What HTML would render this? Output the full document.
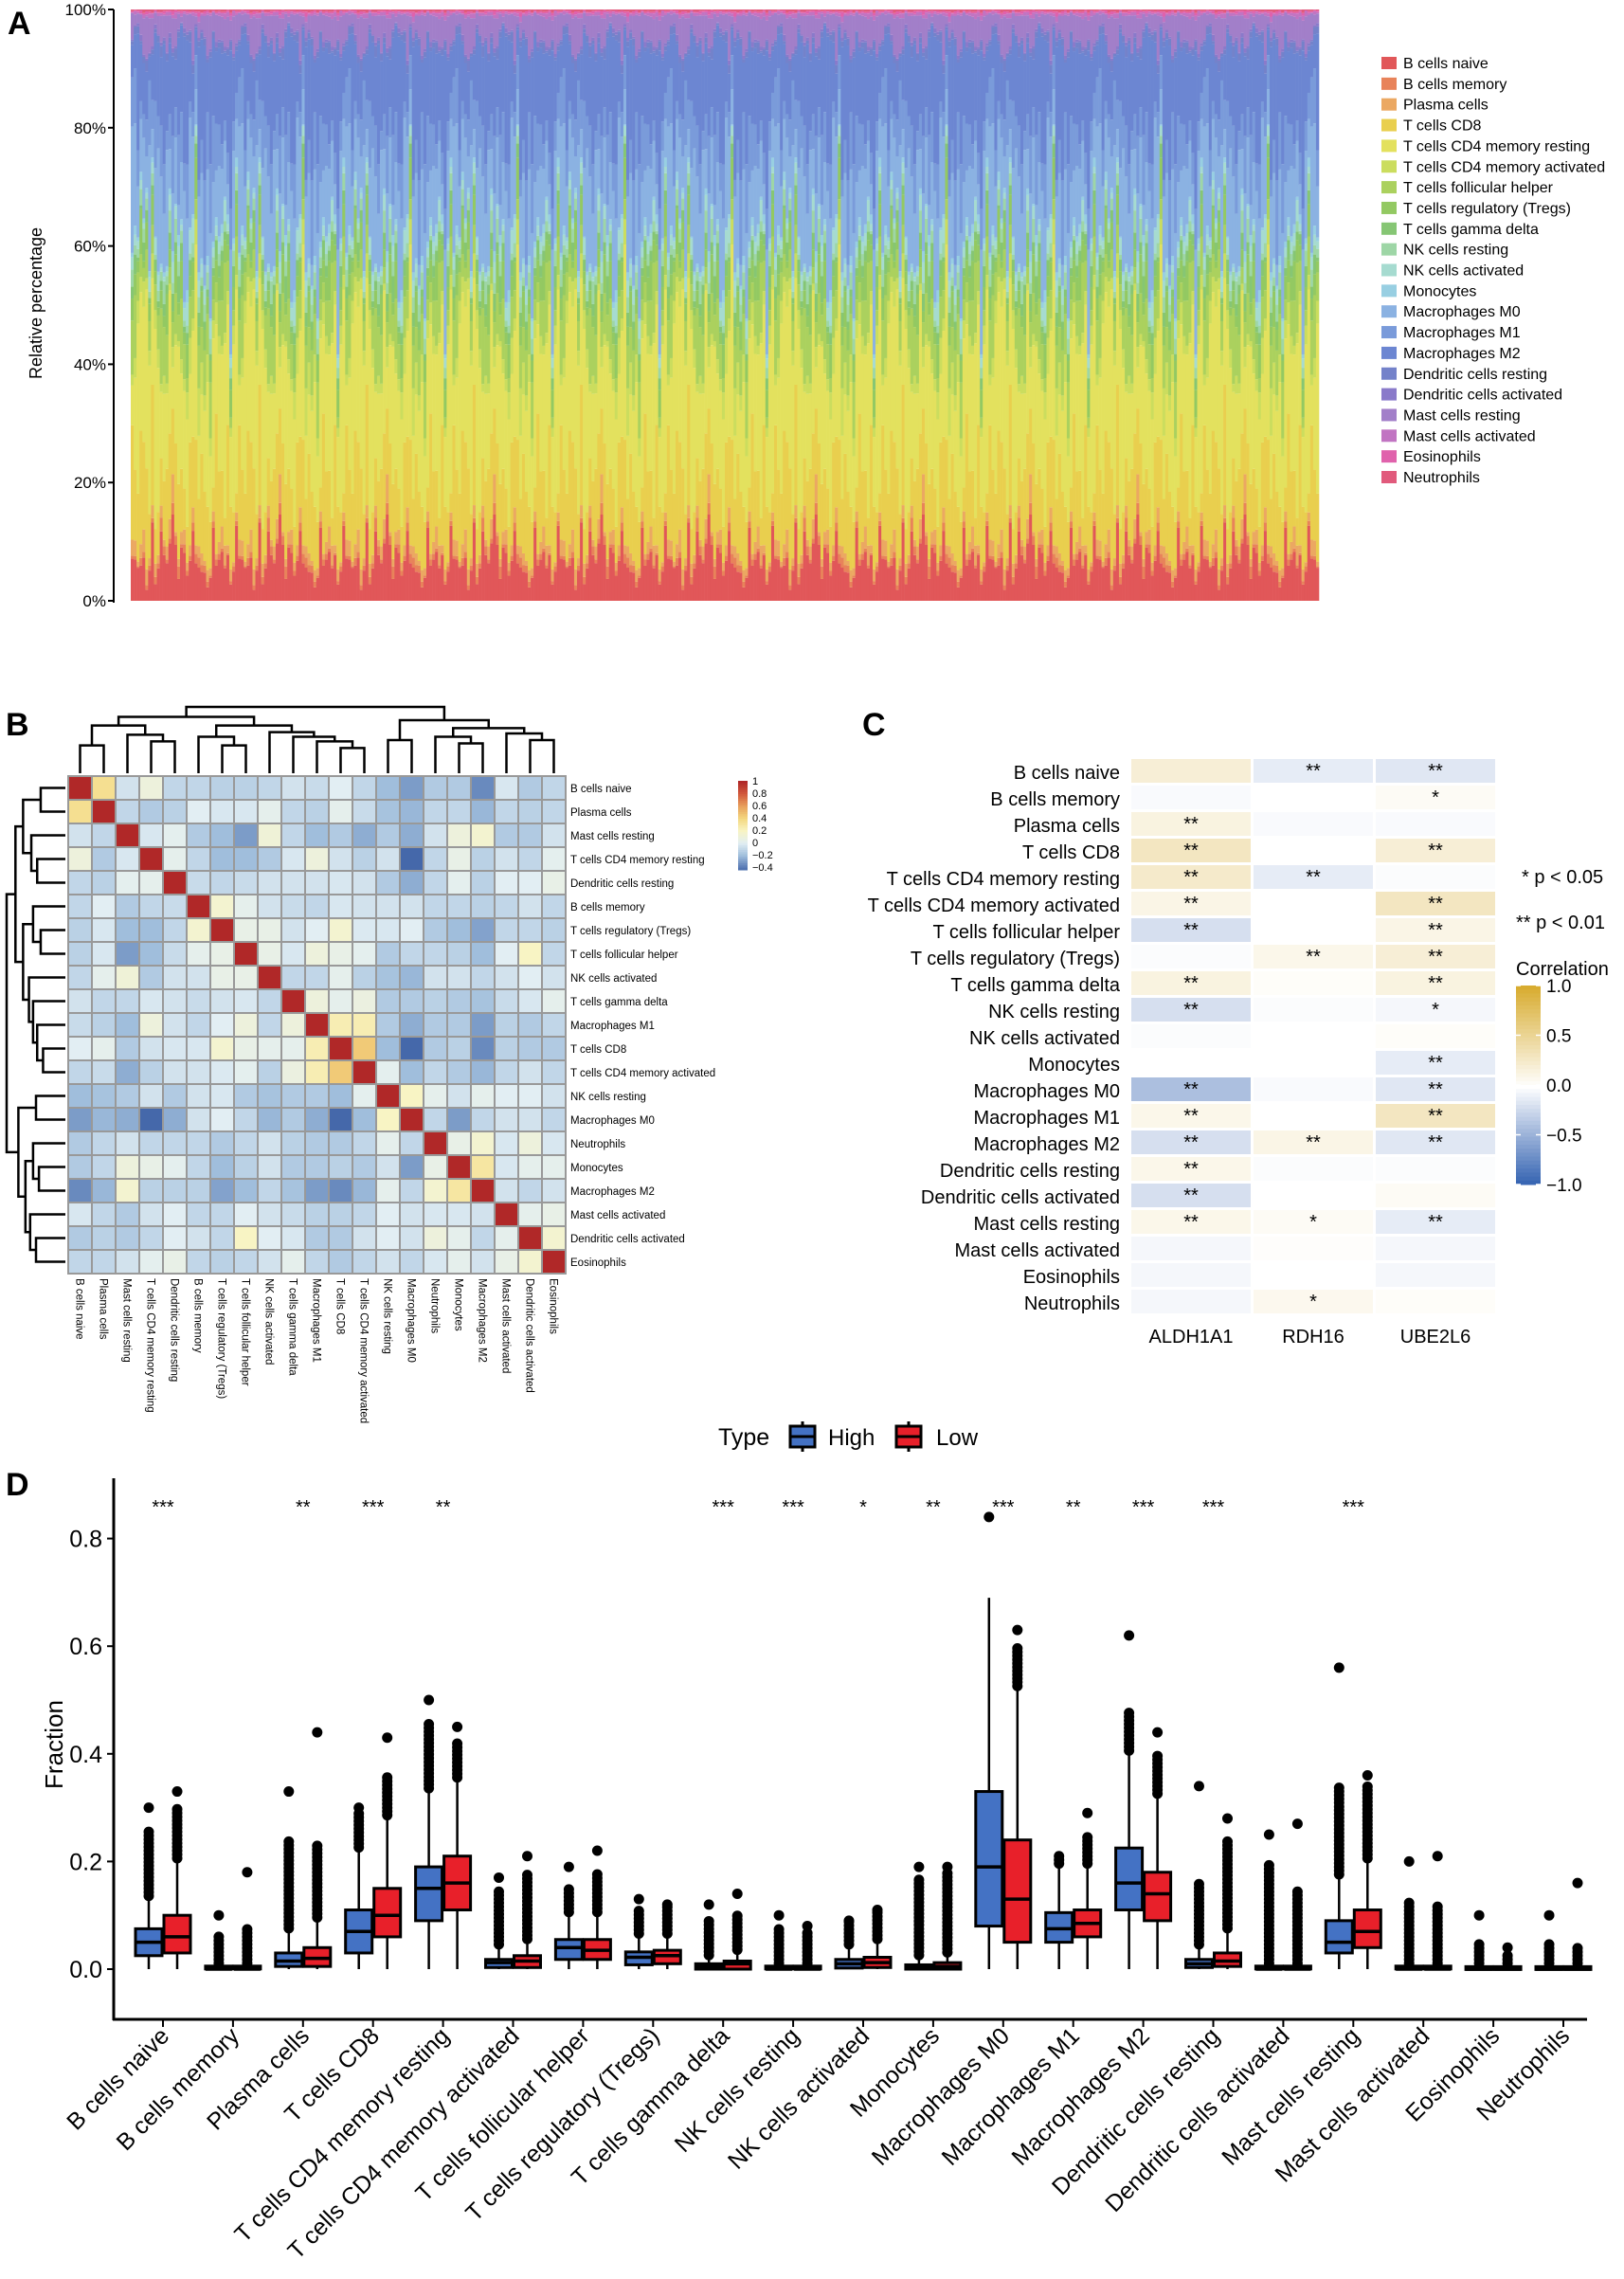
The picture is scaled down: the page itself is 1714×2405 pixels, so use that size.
<!DOCTYPE html>
<html><head><meta charset="utf-8"><style>
body{margin:0;background:#fff}
svg{display:block;font-family:"Liberation Sans",Arial,sans-serif}
</style></head><body>
<svg id="fig" width="1714" height="2405" viewBox="0 0 1714 2405" xmlns="http://www.w3.org/2000/svg">
<rect width="1714" height="2405" fill="#fff"/>
<text x="8" y="36" font-size="34" font-weight="bold">A</text>
<text x="6" y="776" font-size="34" font-weight="bold">B</text>
<text x="910" y="776" font-size="34" font-weight="bold">C</text>
<text x="6" y="1578" font-size="34" font-weight="bold">D</text>
<g id="pa"></g>
<g id="pb"></g>
<g id="pc"></g>
<g id="pd"></g>
</svg>
<script>
const NS="http://www.w3.org/2000/svg";
function mk(p,t,a,txt){const e=document.createElementNS(NS,t);for(const k in a)e.setAttribute(k,a[k]);if(txt!==undefined)e.textContent=txt;p.appendChild(e);return e;}

// ---------- Panel A data ----------
const cellTypes=["B cells naive","B cells memory","Plasma cells","T cells CD8","T cells CD4 memory resting","T cells CD4 memory activated","T cells follicular helper","T cells regulatory (Tregs)","T cells gamma delta","NK cells resting","NK cells activated","Monocytes","Macrophages M0","Macrophages M1","Macrophages M2","Dendritic cells resting","Dendritic cells activated","Mast cells resting","Mast cells activated","Eosinophils","Neutrophils"];
const cellColors=["#E15759","#E8835A","#EBA862","#E9CF4E","#E3E15E","#CBDD5E","#ABD15E","#93C962","#86C674","#9ED6A6","#A6DBD0","#98CFE2","#8BB2E2","#7A9BDA","#6C86D2","#7482CA","#8A7ACA","#A27FC9","#C174C2","#E062AC","#E15A7C"];
const cellMeans=[0.07,0.01,0.02,0.12,0.2,0.03,0.06,0.04,0.02,0.02,0.02,0.01,0.12,0.07,0.13,0.01,0.005,0.04,0.005,0.003,0.003];
const sampleWiggle=[1.2,0.7,1.5,0.9,0.4,1.8,1.0,0.6,1.3,0.8,2.1,0.5,1.1,0.9,1.6,0.3,1.0,1.4,0.7,1.2,0.6,1.9,0.8,1.0,0.5,1.3,1.7,0.9,0.4,1.1,1.5,0.8,0.6,1.2,2.0,0.7,1.0];
const pctTicks=["0%","20%","40%","60%","80%","100%"];
(function(){
const g=document.getElementById("pa");
const x0=138,x1=1392,yB=634,yT=10,N=410;
const bw=(x1-x0)/N;
for(let s=0;s<N;s++){
  const vals=cellMeans.map((m,k)=>m*sampleWiggle[(s*(k+3)+k*7)%sampleWiggle.length]);
  const tot=vals.reduce((a,b)=>a+b,0);
  let acc=0;
  vals.forEach((v,k)=>{
    const f=v/tot;
    const ya=yB-(acc+f)*(yB-yT), yb=yB-acc*(yB-yT);
    const r=mk(g,"rect",{x:(x0+s*bw).toFixed(2),y:ya.toFixed(2),width:(bw+0.3).toFixed(2),height:(yb-ya).toFixed(2),fill:cellColors[k]});
    
    
    acc+=f;
  });
}
const ax=mk(g,"line",{x1:120,y1:yT,x2:120,y2:yB+2,stroke:"#000","stroke-width":2});

pctTicks.forEach((t,i)=>{
  const y=yB-i*(yB-yT)/5;
  mk(g,"line",{x1:114,y1:y,x2:120,y2:y,stroke:"#000","stroke-width":2});
  const tx=mk(g,"text",{x:112,y:y+6,"font-size":17,"text-anchor":"end"},t);
  
});
const yt=mk(g,"text",{x:44,y:320,"font-size":18,"text-anchor":"middle",transform:"rotate(-90 44 320)"},"Relative percentage");

cellTypes.forEach((c,k)=>{
  const y=60+k*21.85;
  const r=mk(g,"rect",{x:1458,y:y,width:16,height:13,fill:cellColors[k]});
  
  const t=mk(g,"text",{x:1481,y:y+12,"font-size":16},c);
  
});
})();

// ---------- Panel B data ----------
const hmLabels=["B cells naive","Plasma cells","Mast cells resting","T cells CD4 memory resting","Dendritic cells resting","B cells memory","T cells regulatory (Tregs)","T cells follicular helper","NK cells activated","T cells gamma delta","Macrophages M1","T cells CD8","T cells CD4 memory activated","NK cells resting","Macrophages M0","Neutrophils","Monocytes","Macrophages M2","Mast cells activated","Dendritic cells activated","Eosinophils"];
const corrMatrix=[
[1,.35,-.05,.1,-.1,-.1,-.12,-.12,-.1,-.05,-.08,0,-.1,-.2,-.3,-.15,-.15,-.35,-.03,-.15,-.1],
[.35,1,-.1,-.15,-.12,0,-.03,-.03,.03,-.1,-.12,.03,-.08,-.18,-.22,-.1,-.1,-.22,-.1,-.12,-.1],
[-.05,-.1,1,-.03,.02,-.15,-.2,-.3,.12,-.1,-.2,-.15,-.25,-.15,-.25,-.05,.1,.15,-.15,-.15,-.05],
[.1,-.15,-.03,1,.03,-.1,-.2,-.2,-.15,-.03,.1,-.05,-.12,-.05,-.45,-.1,.05,-.12,-.05,-.1,.02],
[-.1,-.12,.02,.03,1,-.08,-.1,-.08,-.05,-.05,-.05,-.03,-.05,-.15,-.25,-.1,.02,-.12,0,0,.05],
[-.1,0,-.15,-.1,-.08,1,.15,.03,-.05,-.08,-.1,-.03,-.05,-.05,-.05,-.1,-.1,-.12,-.1,-.05,-.1],
[-.12,-.03,-.2,-.2,-.1,.15,1,.05,.05,-.05,0,.15,-.02,-.03,0,-.15,-.2,-.28,-.1,-.1,-.12],
[-.12,-.03,-.3,-.2,-.08,.03,.05,1,.05,-.03,.1,.05,.02,-.15,-.1,-.1,-.12,-.2,0,.2,-.1],
[-.1,.03,.12,-.15,-.05,-.05,.05,.05,1,-.1,-.1,.03,-.12,-.18,-.22,-.05,-.05,-.1,-.05,0,-.05],
[-.05,-.1,-.1,-.03,-.05,-.08,-.05,-.03,-.1,1,.1,.03,.08,-.15,-.15,-.12,-.15,-.18,-.08,-.03,.03],
[-.08,-.12,-.2,.1,-.05,-.1,0,.1,-.1,.1,1,.25,.25,-.15,-.25,-.15,-.15,-.3,-.12,-.15,-.1],
[0,.03,-.15,-.05,-.03,-.03,.15,.05,.03,.03,.25,1,.45,-.2,-.45,-.15,-.12,-.35,-.12,-.15,-.15],
[-.1,-.08,-.25,-.12,-.05,-.05,-.02,.02,-.12,.08,.25,.45,1,.02,-.2,-.1,-.15,-.22,-.1,-.05,-.1],
[-.2,-.18,-.15,-.05,-.15,-.05,-.03,-.15,-.18,-.15,-.15,-.2,.02,1,.2,.03,-.05,.03,0,0,-.05],
[-.3,-.22,-.25,-.45,-.25,-.05,0,-.1,-.22,-.15,-.25,-.45,-.2,.2,1,-.1,-.3,-.1,-.05,-.05,-.1],
[-.15,-.1,-.05,-.1,-.1,-.1,-.15,-.1,-.05,-.12,-.15,-.15,-.1,.03,-.1,1,.05,.15,-.03,.1,-.03],
[-.15,-.1,.1,.05,.02,-.1,-.2,-.12,-.05,-.15,-.15,-.12,-.15,-.05,-.3,.05,1,.3,-.03,.03,.03],
[-.35,-.22,.15,-.12,-.12,-.12,-.28,-.2,-.1,-.18,-.3,-.35,-.22,.03,-.1,.15,.3,1,-.05,-.1,-.05],
[-.03,-.1,-.15,-.05,0,-.1,-.1,0,-.05,-.08,-.12,-.12,-.1,0,-.05,-.03,-.03,-.05,1,.03,.05],
[-.15,-.12,-.15,-.1,0,-.05,-.1,.2,0,-.03,-.15,-.15,-.05,0,-.05,.1,.03,-.1,.03,1,.15],
[-.1,-.1,-.05,.02,.05,-.1,-.12,-.1,-.05,.03,-.1,-.15,-.1,-.05,-.1,-.03,.03,-.05,.05,.15,1]];
const dendroMerges=[[0,1,.42],[3,4,.48],[2,22,.58],[21,23,.72],[6,7,.42],[5,25,.55],[11,12,.38],[10,27,.48],[9,28,.55],[8,29,.62],[26,30,.72],[24,31,.85],[13,14,.5],[16,17,.45],[15,34,.55],[19,20,.5],[18,36,.6],[35,37,.68],[33,38,.8],[32,39,1]];
const cbTicks=[1,0.8,0.6,0.4,0.2,0,-0.2,-0.4];
function rdylbu(v){
  const st=[[-0.45,[69,104,170]],[-0.2,[160,190,220]],[0,[226,238,243]],[0.2,[248,244,196]],[0.4,[244,216,128]],[0.6,[232,160,92]],[0.8,[210,90,60]],[1,[176,40,40]]];
  for(let i=0;i<st.length-1;i++){if(v<=st[i+1][0]){const t=Math.max(0,(v-st[i][0])/(st[i+1][0]-st[i][0]));const c=st[i][1].map((a,j)=>Math.round(a+(st[i+1][1][j]-a)*t));return `rgb(${c})`;}}
  return "rgb(176,40,40)";
}
(function(){
const g=document.getElementById("pb");
const hx=72,hy=819,cs=25,n=hmLabels.length;
for(let i=0;i<n;i++)for(let j=0;j<n;j++){
  const r=mk(g,"rect",{x:hx+j*cs,y:hy+i*cs,width:cs,height:cs,fill:rdylbu(corrMatrix[i][j]),stroke:"#999","stroke-width":2});
  
}
hmLabels.forEach((l,i)=>{
  const t=mk(g,"text",{x:hx+n*cs+5,y:hy+i*cs+17,"font-size":11.5},l);
  
  const cx=hx+i*cs+cs/2-4;const yy=hy+n*cs+5;
  const c=mk(g,"text",{x:cx,y:yy,"font-size":11.5,transform:`rotate(90 ${cx} ${yy})`},l);
  
});
const pos={},ht={};
for(let i=0;i<n;i++){pos[i]=i*cs+cs/2;ht[i]=0;}
dendroMerges.forEach((m,k)=>{const id=n+k;pos[id]=(pos[m[0]]+pos[m[1]])/2;ht[id]=m[2];});
const topH=70,leftW=62;
dendroMerges.forEach((m,k)=>{
  const [a,b,h]=m;
  const ya=hy-3-ht[a]*topH,yb=hy-3-ht[b]*topH,yh=hy-3-h*topH;
  const p=mk(g,"path",{d:`M${hx+pos[a]} ${ya}V${yh}H${hx+pos[b]}V${yb}`,fill:"none",stroke:"#000","stroke-width":2.5});
  
  const xa=hx-3-ht[a]*leftW,xb=hx-3-ht[b]*leftW,xh=hx-3-h*leftW;
  const q=mk(g,"path",{d:`M${xa} ${hy+pos[a]}H${xh}V${hy+pos[b]}H${xb}`,fill:"none",stroke:"#000","stroke-width":2.5});
  
});
const cy0=824,cy1=918;
for(let k=0;k<40;k++){const v=1-k*1.45/40;mk(g,"rect",{x:779,y:cy0+k*(cy1-cy0)/40,width:10,height:(cy1-cy0)/40+0.5,fill:rdylbu(v)});}
cbTicks.forEach(v=>{const y=cy0+(1-v)/1.45*(cy1-cy0);
  const t=mk(g,"text",{x:794,y:y+4,"font-size":11},v===0?"0":(v<0?"\u2212"+Math.abs(v):String(v)));
  });
})();

// ---------- Panel C data ----------
const geneNames=["ALDH1A1","RDH16","UBE2L6"];
const corrALDH1A1=[.2,-.03,.15,.3,.25,.12,-.2,-.02,.15,-.2,-.02,0,-.4,.1,-.2,.1,-.2,.1,-.05,-.05,-.05];
const corrRDH16=[-.12,0,-.03,0,-.12,0,0,.1,.03,-.02,0,0,-.03,0,.12,-.02,0,.05,.02,0,.08];
const corrUBE2L6=[-.15,.05,-.03,.2,-.02,.3,.12,.2,.15,-.05,.03,-.12,-.15,.3,-.15,-.02,.05,-.12,-.05,-.05,.03];
const starsALDH1A1=["","","**","**","**","**","**","","**","**","","","**","**","**","**","**","**","","",""];
const starsRDH16=["**","","","","**","","","**","","","","","","","**","","","*","","","*"];
const starsUBE2L6=["**","*","","**","","**","**","**","**","*","","**","**","**","**","","","**","","",""];
const cTicks=[1.0,0.5,0.0,-0.5,-1.0];
function goldBlue(v){
  const w=[255,255,255],p=[216,172,48],n=[48,96,176];
  const t=Math.min(1,Math.abs(v)),c=v>=0?p:n;
  return `rgb(${w.map((a,j)=>Math.round(a+(c[j]-a)*t))})`;
}
(function(){
const g=document.getElementById("pc");
const x0=1194,cw=126,gap=3,y0=801,rh=28;
const vals=[corrALDH1A1,corrRDH16,corrUBE2L6],stars=[starsALDH1A1,starsRDH16,starsUBE2L6];
cellTypes.forEach((c,i)=>{
  const t=mk(g,"text",{x:1182,y:y0+i*rh+21,"font-size":20,"text-anchor":"end"},c);
  
  vals.forEach((arr,j)=>{
    const r=mk(g,"rect",{x:x0+j*(cw+gap),y:y0+i*rh,width:cw,height:rh-3,fill:goldBlue(arr[i])});
    
    if(stars[j][i]){const s=mk(g,"text",{x:x0+j*(cw+gap)+cw/2,y:y0+i*rh+19,"font-size":20,"text-anchor":"middle"},stars[j][i]);
      }
  });
});
geneNames.forEach((gn,j)=>{const t=mk(g,"text",{x:x0+j*(cw+gap)+cw/2,y:1417,"font-size":20,"text-anchor":"middle"},gn);
  });
const l1=mk(g,"text",{x:1606,y:932,"font-size":20},"* p < 0.05");
const l2=mk(g,"text",{x:1600,y:980,"font-size":20},"** p < 0.01");
const l3=mk(g,"text",{x:1600,y:1029,"font-size":20},"Correlation");
const cy0=1040,cy1=1250;
for(let k=0;k<50;k++){const v=1-k*2/50;mk(g,"rect",{x:1600,y:cy0+k*(cy1-cy0)/50,width:26,height:(cy1-cy0)/50+0.5,fill:goldBlue(v)});}
cTicks.forEach(v=>{const y=cy0+(1-v)/2*(cy1-cy0);
  mk(g,"line",{x1:1600,y1:y,x2:1605,y2:y,stroke:"#fff","stroke-width":1.5});
  mk(g,"line",{x1:1621,y1:y,x2:1626,y2:y,stroke:"#fff","stroke-width":1.5});
  const t=mk(g,"text",{x:1632,y:y+7,"font-size":19},(v<0?"\u2212":"")+Math.abs(v).toFixed(1));
  });
})();

// ---------- Panel D data ----------
// each entry: [q1, median, q3, whiskerLow, whiskerHigh, denseOutlierTop, outlierMax]
const highStats=[[.025,.05,.075,0,.13,.26,.30],[0,0,.003,0,.005,.06,.10],[.005,.015,.03,0,.07,.24,.33],[.03,.07,.11,0,.22,.29,.30],[.09,.15,.19,0,.33,.46,.50],[.003,.012,.018,0,.04,.15,.17],[.018,.04,.055,0,.1,.15,.19],[.008,.022,.032,0,.06,.11,.13],[0,.005,.01,0,.02,.09,.12],[0,0,.003,0,.005,.08,.10],[.002,.01,.018,0,.04,.09,.09],[0,.003,.008,0,.02,.17,.19],[.08,.19,.33,0,.69,.69,.84],[.05,.075,.105,0,.19,.21,.21],[.11,.16,.225,0,.4,.48,.62],[.003,.01,.018,0,.04,.16,.34],[0,0,.003,0,.005,.2,.25],[.03,.05,.09,0,.17,.34,.56],[0,0,.003,0,.005,.13,.20],[0,0,.002,0,.005,.05,.10],[0,0,.002,0,.005,.05,.10]];
const lowStats=[[.03,.06,.1,0,.2,.3,.33],[0,0,.003,0,.005,.08,.18],[.005,.02,.04,0,.09,.23,.44],[.06,.1,.15,0,.28,.36,.43],[.11,.16,.21,0,.35,.42,.45],[.003,.015,.025,0,.05,.18,.21],[.018,.035,.055,0,.1,.18,.22],[.01,.025,.035,0,.06,.12,.12],[0,.01,.015,0,.03,.1,.14],[0,0,.003,0,.005,.07,.08],[.003,.012,.022,0,.05,.11,.11],[0,.005,.012,0,.025,.18,.19],[.05,.13,.24,0,.52,.6,.63],[.06,.085,.11,0,.19,.25,.29],[.09,.14,.18,0,.32,.4,.44],[.005,.015,.03,0,.07,.24,.28],[0,0,.003,0,.005,.15,.27],[.04,.07,.11,0,.2,.34,.36],[0,0,.003,0,.005,.12,.21],[0,0,.002,0,.005,.03,.04],[0,0,.002,0,.005,.04,.16]];
const sigStars=["***","","**","***","**","","","","***","***","*","**","***","**","***","***","","***","","",""];
const fracTicks=[0,0.2,0.4,0.6,0.8];
(function(){
const g=document.getElementById("pd");
const yv=v=>2078-v*568, xc=i=>172+i*73.9;
mk(g,"line",{x1:120,y1:1560,x2:120,y2:2132,stroke:"#000","stroke-width":3});
mk(g,"line",{x1:119,y1:2131,x2:1675,y2:2131,stroke:"#000","stroke-width":3});
fracTicks.forEach(v=>{mk(g,"line",{x1:113,y1:yv(v),x2:120,y2:yv(v),stroke:"#000","stroke-width":2});
  const t=mk(g,"text",{x:108,y:yv(v)+9,"font-size":25,"text-anchor":"end"},v.toFixed(1));
  });
const yt=mk(g,"text",{x:66,y:1841,"font-size":26,"text-anchor":"middle",transform:"rotate(-90 66 1841)"},"Fraction");

function box(cx,s,col,name){
  const [q1,md,q3,wl,wh,dt,om]=s,w=28;
  const grp=mk(g,"g",{});
  
  mk(grp,"line",{x1:cx,y1:yv(wl),x2:cx,y2:yv(wh),stroke:"#000","stroke-width":2.5});
  for(let v=wh+0.006;v<=dt;v+=0.007)mk(grp,"circle",{cx:cx,cy:yv(v),r:5.5,fill:"#000"});
  if(om>wh)mk(grp,"circle",{cx:cx,cy:yv(om),r:5.5,fill:"#000"});
  const h=Math.max(yv(q1)-yv(q3),3);
  mk(grp,"rect",{x:cx-w/2,y:yv(q3)-(h>3?0:1.5),width:w,height:h,fill:col,stroke:"#000","stroke-width":3});
  mk(grp,"line",{x1:cx-w/2,y1:yv(md),x2:cx+w/2,y2:yv(md),stroke:"#000","stroke-width":3.5});
}
cellTypes.forEach((c,i)=>{
  const x=xc(i);
  box(x-15,highStats[i],"#4472C4","box-high");
  box(x+15,lowStats[i],"#E8202A","box-low");
  mk(g,"line",{x1:x,y1:2131,x2:x,y2:2139,stroke:"#000","stroke-width":2});
  const t=mk(g,"text",{x:x+8,y:2150,"font-size":25,"text-anchor":"end",transform:`rotate(-45 ${x+8} 2150)`},c);
  
  if(sigStars[i]){const s=mk(g,"text",{x:x,y:1597,"font-size":20,"text-anchor":"middle"},sigStars[i]);
    }
});
const lt=mk(g,"text",{x:758,y:1525,"font-size":25},"Type");
[["High","#4472C4",832,874],["Low","#E8202A",944,988]].forEach(([lab,col,bx,tx])=>{
  const lg=mk(g,"g",{});
  mk(lg,"line",{x1:bx+15,y1:1500,x2:bx+15,y2:1532,stroke:"#000","stroke-width":3});
  mk(lg,"rect",{x:bx+2,y:1505,width:26,height:22,fill:col,stroke:"#000","stroke-width":3});
  mk(lg,"line",{x1:bx+2,y1:1516,x2:bx+28,y2:1516,stroke:"#000","stroke-width":3});
  mk(lg,"text",{x:tx,y:1525,"font-size":24},lab);
});
})();
</script>
</body></html>
